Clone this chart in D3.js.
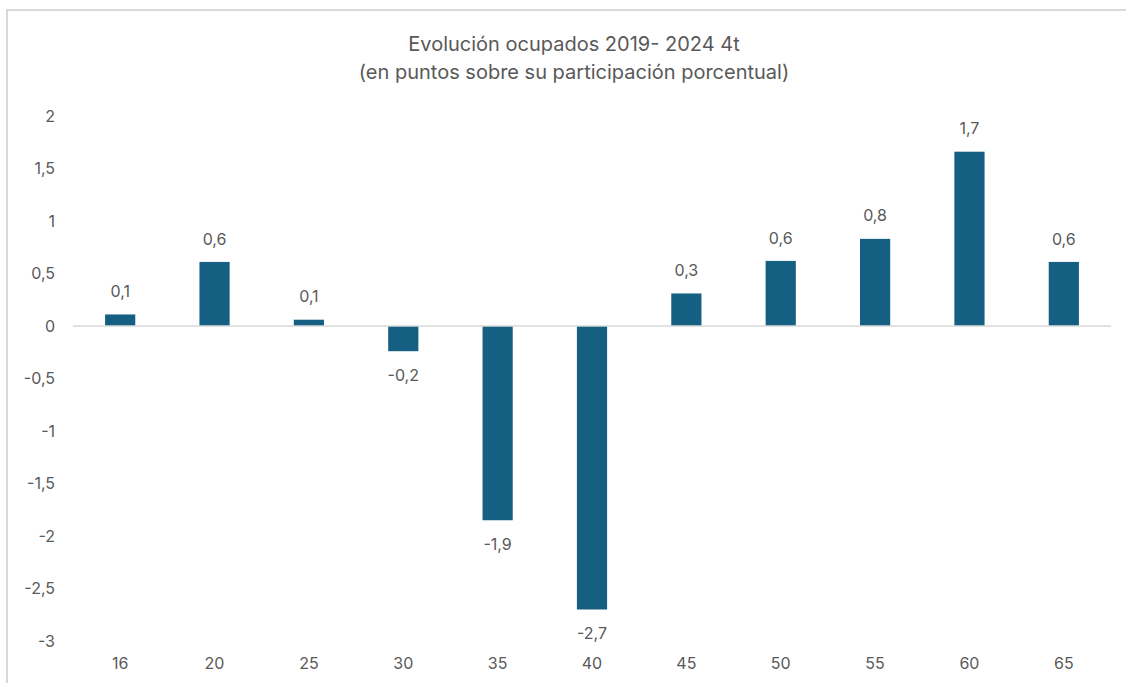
<!DOCTYPE html>
<html>
<head>
    <title>Evolución ocupados 2019- 2024 4t</title>
    <script src="https://d3js.org/d3.v7.min.js"></script>
    <style>
        body { margin: 0; background: #fff; }
        text { font-family: Inter, "Open Sans", sans-serif; fill: #595959; }
    </style>
</head>
<body>
<div id="chart"></div>

<script>
    // data
    var ageGroups = ["16", "20", "25", "30", "35", "40", "45", "50", "55", "60", "65"];
    var changes = [0.11, 0.61, 0.06, -0.24, -1.85, -2.7, 0.31, 0.62, 0.83, 1.66, 0.61];
    var yTicks = [-3, -2.5, -2, -1.5, -1, -0.5, 0, 0.5, 1, 1.5, 2];
    var titleLines = ["Evolución ocupados 2019- 2024 4t", "(en puntos sobre su participación porcentual)"];

    var W = 1126, H = 683;
    var margin = {top: 116, right: 15, bottom: 42, left: 73};

    var svg = d3.select("#chart")
        .append("svg")
        .attr("width", W)
        .attr("height", H);

    // chart border
    svg.append("rect")
        .attr("x", 7)
        .attr("y", 10)
        .attr("width", W + 20)
        .attr("height", H + 20)
        .attr("fill", "none")
        .attr("stroke", "#d9d9d9")
        .attr("stroke-width", 2);

    // title
    svg.append("text")
        .attr("x", 574)
        .attr("y", 51)
        .attr("text-anchor", "middle")
        .style("font-size", "20px")
        .selectAll("tspan")
        .data(titleLines)
        .join("tspan")
        .attr("x", 574)
        .attr("dy", (d, i) => i === 0 ? 0 : 28)
        .text(d => d);

    var x = d3.scaleBand()
        .domain(ageGroups)
        .range([margin.left, 1111])
        .paddingInner(0.68)
        .paddingOuter(0.34);

    var y = d3.scaleLinear()
        .domain([-3, 2])
        .range([641, 116]);

    var fmt = v => d3.format(".1f")(v).replace(".", ",").replace("−", "-");

    // y axis labels (no line)
    var yAxis = svg.append("g")
        .attr("transform", "translate(" + margin.left + ",0)")
        .call(d3.axisLeft(y).tickValues(yTicks).tickSize(0).tickPadding(18)
            .tickFormat(d => String(d).replace(".", ",")));
    yAxis.select(".domain").remove();
    yAxis.selectAll("text")
        .style("font-size", "16px")
        .attr("fill", "#595959");

    // bars
    svg.append("g")
        .selectAll("rect")
        .data(changes)
        .join("rect")
        .attr("x", (d, i) => x(ageGroups[i]))
        .attr("width", x.bandwidth())
        .attr("y", d => y(Math.max(0, d)))
        .attr("height", d => Math.abs(y(d) - y(0)))
        .attr("fill", "#156082");

    // zero line
    svg.append("line")
        .attr("x1", margin.left)
        .attr("x2", 1111)
        .attr("y1", y(0))
        .attr("y2", y(0))
        .attr("stroke", "#d9d9d9")
        .attr("stroke-width", 1.5);

    // value labels
    svg.append("g")
        .selectAll("text")
        .data(changes)
        .join("text")
        .attr("x", (d, i) => x(ageGroups[i]) + x.bandwidth() / 2)
        .attr("y", d => d >= 0 ? y(d) - 23 : y(d) + 24)
        .attr("dy", "0.35em")
        .attr("text-anchor", "middle")
        .style("font-size", "16px")
        .text(d => fmt(d));

    // category labels at the bottom
    svg.append("g")
        .selectAll("text")
        .data(ageGroups)
        .join("text")
        .attr("x", d => x(d) + x.bandwidth() / 2)
        .attr("y", 663)
        .attr("dy", "0.35em")
        .attr("text-anchor", "middle")
        .style("font-size", "16px")
        .text(d => d);
</script>
</body>
</html>
